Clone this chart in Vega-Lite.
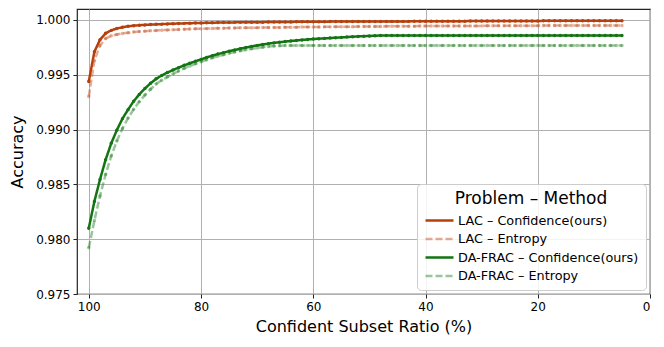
{
  "$schema": "https://vega.github.io/schema/vega-lite/v6.json",
  "width": 573,
  "height": 285,
  "autosize": "none",
  "padding": {"left": 77, "top": 9, "right": 14, "bottom": 53},
  "config": {
    "font": "DejaVu Sans",
    "view": {"stroke": "#222", "strokeWidth": 1.2},
    "axis": {
      "domain": false,
      "grid": true,
      "gridColor": "#b0b0b0",
      "gridWidth": 1,
      "tickColor": "#222",
      "tickSize": 4,
      "labelColor": "black",
      "labelFontSize": 12,
      "labelPadding": 3,
      "titleColor": "black",
      "titleFontSize": 16,
      "titleFontWeight": "normal"
    },
    "legend": {
      "labelFont": "DejaVu Sans",
      "titleFont": "DejaVu Sans"
    }
  },
  "data": {
    "values": [
      {"x": 100, "lc": 0.99439, "le": 0.99302, "dc": 0.98100, "de": 0.97922},
      {"x": 99, "lc": 0.99710, "le": 0.99630, "dc": 0.98345, "de": 0.98170},
      {"x": 98, "lc": 0.99820, "le": 0.99767, "dc": 0.98545, "de": 0.98395},
      {"x": 97, "lc": 0.99878, "le": 0.99830, "dc": 0.98725, "de": 0.98590},
      {"x": 96, "lc": 0.99905, "le": 0.99855, "dc": 0.98875, "de": 0.98760},
      {"x": 95, "lc": 0.99922, "le": 0.99868, "dc": 0.98995, "de": 0.98895},
      {"x": 94, "lc": 0.99934, "le": 0.99877, "dc": 0.99100, "de": 0.99010},
      {"x": 93, "lc": 0.99942, "le": 0.99884, "dc": 0.99182, "de": 0.99105},
      {"x": 92, "lc": 0.99948, "le": 0.99890, "dc": 0.99259, "de": 0.99185},
      {"x": 91, "lc": 0.99952, "le": 0.99894, "dc": 0.99321, "de": 0.99255},
      {"x": 90, "lc": 0.99955, "le": 0.99898, "dc": 0.99375, "de": 0.99315},
      {"x": 89, "lc": 0.99958, "le": 0.99901, "dc": 0.99422, "de": 0.99368},
      {"x": 88, "lc": 0.99960, "le": 0.99904, "dc": 0.99463, "de": 0.99415},
      {"x": 87, "lc": 0.99962, "le": 0.99907, "dc": 0.99494, "de": 0.99450},
      {"x": 86, "lc": 0.99964, "le": 0.99909, "dc": 0.99520, "de": 0.99480},
      {"x": 85, "lc": 0.99966, "le": 0.99911, "dc": 0.99543, "de": 0.99508},
      {"x": 84, "lc": 0.99967, "le": 0.99913, "dc": 0.99565, "de": 0.99534},
      {"x": 83, "lc": 0.99969, "le": 0.99915, "dc": 0.99586, "de": 0.99558},
      {"x": 82, "lc": 0.99970, "le": 0.99917, "dc": 0.99605, "de": 0.99580},
      {"x": 81, "lc": 0.99972, "le": 0.99919, "dc": 0.99623, "de": 0.99600},
      {"x": 80, "lc": 0.99973, "le": 0.99920, "dc": 0.99640, "de": 0.99619},
      {"x": 79, "lc": 0.99974, "le": 0.99921, "dc": 0.99658, "de": 0.99637},
      {"x": 78, "lc": 0.99975, "le": 0.99922, "dc": 0.99674, "de": 0.99654},
      {"x": 77, "lc": 0.99976, "le": 0.99924, "dc": 0.99689, "de": 0.99669},
      {"x": 76, "lc": 0.99976, "le": 0.99925, "dc": 0.99702, "de": 0.99683},
      {"x": 75, "lc": 0.99977, "le": 0.99926, "dc": 0.99715, "de": 0.99696},
      {"x": 74, "lc": 0.99978, "le": 0.99927, "dc": 0.99726, "de": 0.99707},
      {"x": 73, "lc": 0.99978, "le": 0.99928, "dc": 0.99738, "de": 0.99718},
      {"x": 72, "lc": 0.99979, "le": 0.99929, "dc": 0.99749, "de": 0.99728},
      {"x": 71, "lc": 0.99979, "le": 0.99929, "dc": 0.99759, "de": 0.99737},
      {"x": 70, "lc": 0.99980, "le": 0.99930, "dc": 0.99768, "de": 0.99745},
      {"x": 69, "lc": 0.99980, "le": 0.99931, "dc": 0.99776, "de": 0.99752},
      {"x": 68, "lc": 0.99981, "le": 0.99931, "dc": 0.99784, "de": 0.99758},
      {"x": 67, "lc": 0.99981, "le": 0.99932, "dc": 0.99791, "de": 0.99762},
      {"x": 66, "lc": 0.99982, "le": 0.99932, "dc": 0.99797, "de": 0.99765},
      {"x": 65, "lc": 0.99982, "le": 0.99933, "dc": 0.99803, "de": 0.99767},
      {"x": 64, "lc": 0.99982, "le": 0.99933, "dc": 0.99808, "de": 0.99767},
      {"x": 63, "lc": 0.99983, "le": 0.99934, "dc": 0.99813, "de": 0.99767},
      {"x": 62, "lc": 0.99983, "le": 0.99935, "dc": 0.99818, "de": 0.99767},
      {"x": 61, "lc": 0.99984, "le": 0.99935, "dc": 0.99822, "de": 0.99767},
      {"x": 60, "lc": 0.99984, "le": 0.99936, "dc": 0.99826, "de": 0.99767},
      {"x": 59, "lc": 0.99984, "le": 0.99936, "dc": 0.99829, "de": 0.99767},
      {"x": 58, "lc": 0.99984, "le": 0.99937, "dc": 0.99832, "de": 0.99767},
      {"x": 57, "lc": 0.99985, "le": 0.99937, "dc": 0.99835, "de": 0.99767},
      {"x": 56, "lc": 0.99985, "le": 0.99938, "dc": 0.99838, "de": 0.99767},
      {"x": 55, "lc": 0.99985, "le": 0.99938, "dc": 0.99841, "de": 0.99767},
      {"x": 54, "lc": 0.99985, "le": 0.99939, "dc": 0.99844, "de": 0.99767},
      {"x": 53, "lc": 0.99985, "le": 0.99939, "dc": 0.99847, "de": 0.99767},
      {"x": 52, "lc": 0.99986, "le": 0.99940, "dc": 0.99850, "de": 0.99767},
      {"x": 51, "lc": 0.99986, "le": 0.99940, "dc": 0.99852, "de": 0.99767},
      {"x": 50, "lc": 0.99986, "le": 0.99941, "dc": 0.99854, "de": 0.99767},
      {"x": 49, "lc": 0.99986, "le": 0.99941, "dc": 0.99856, "de": 0.99767},
      {"x": 48, "lc": 0.99986, "le": 0.99941, "dc": 0.99858, "de": 0.99767},
      {"x": 47, "lc": 0.99987, "le": 0.99942, "dc": 0.99859, "de": 0.99767},
      {"x": 46, "lc": 0.99987, "le": 0.99942, "dc": 0.99859, "de": 0.99767},
      {"x": 45, "lc": 0.99987, "le": 0.99942, "dc": 0.99859, "de": 0.99767},
      {"x": 44, "lc": 0.99987, "le": 0.99943, "dc": 0.99859, "de": 0.99767},
      {"x": 43, "lc": 0.99987, "le": 0.99943, "dc": 0.99859, "de": 0.99767},
      {"x": 42, "lc": 0.99988, "le": 0.99943, "dc": 0.99859, "de": 0.99767},
      {"x": 41, "lc": 0.99988, "le": 0.99944, "dc": 0.99859, "de": 0.99767},
      {"x": 40, "lc": 0.99988, "le": 0.99944, "dc": 0.99859, "de": 0.99767},
      {"x": 39, "lc": 0.99988, "le": 0.99944, "dc": 0.99859, "de": 0.99767},
      {"x": 38, "lc": 0.99988, "le": 0.99944, "dc": 0.99859, "de": 0.99767},
      {"x": 37, "lc": 0.99989, "le": 0.99945, "dc": 0.99859, "de": 0.99767},
      {"x": 36, "lc": 0.99989, "le": 0.99945, "dc": 0.99859, "de": 0.99767},
      {"x": 35, "lc": 0.99989, "le": 0.99945, "dc": 0.99859, "de": 0.99767},
      {"x": 34, "lc": 0.99989, "le": 0.99945, "dc": 0.99859, "de": 0.99767},
      {"x": 33, "lc": 0.99989, "le": 0.99946, "dc": 0.99859, "de": 0.99767},
      {"x": 32, "lc": 0.99990, "le": 0.99946, "dc": 0.99859, "de": 0.99767},
      {"x": 31, "lc": 0.99990, "le": 0.99946, "dc": 0.99859, "de": 0.99767},
      {"x": 30, "lc": 0.99990, "le": 0.99946, "dc": 0.99859, "de": 0.99767},
      {"x": 29, "lc": 0.99990, "le": 0.99947, "dc": 0.99859, "de": 0.99767},
      {"x": 28, "lc": 0.99990, "le": 0.99947, "dc": 0.99859, "de": 0.99767},
      {"x": 27, "lc": 0.99990, "le": 0.99947, "dc": 0.99859, "de": 0.99767},
      {"x": 26, "lc": 0.99991, "le": 0.99947, "dc": 0.99859, "de": 0.99767},
      {"x": 25, "lc": 0.99991, "le": 0.99948, "dc": 0.99859, "de": 0.99767},
      {"x": 24, "lc": 0.99991, "le": 0.99948, "dc": 0.99859, "de": 0.99767},
      {"x": 23, "lc": 0.99991, "le": 0.99948, "dc": 0.99859, "de": 0.99767},
      {"x": 22, "lc": 0.99991, "le": 0.99948, "dc": 0.99859, "de": 0.99767},
      {"x": 21, "lc": 0.99991, "le": 0.99948, "dc": 0.99859, "de": 0.99767},
      {"x": 20, "lc": 0.99991, "le": 0.99948, "dc": 0.99859, "de": 0.99767},
      {"x": 19, "lc": 0.99992, "le": 0.99949, "dc": 0.99859, "de": 0.99767},
      {"x": 18, "lc": 0.99992, "le": 0.99949, "dc": 0.99859, "de": 0.99767},
      {"x": 17, "lc": 0.99992, "le": 0.99949, "dc": 0.99859, "de": 0.99767},
      {"x": 16, "lc": 0.99992, "le": 0.99949, "dc": 0.99859, "de": 0.99767},
      {"x": 15, "lc": 0.99992, "le": 0.99949, "dc": 0.99859, "de": 0.99767},
      {"x": 14, "lc": 0.99992, "le": 0.99949, "dc": 0.99859, "de": 0.99767},
      {"x": 13, "lc": 0.99992, "le": 0.99949, "dc": 0.99859, "de": 0.99767},
      {"x": 12, "lc": 0.99992, "le": 0.99949, "dc": 0.99859, "de": 0.99767},
      {"x": 11, "lc": 0.99992, "le": 0.99949, "dc": 0.99859, "de": 0.99767},
      {"x": 10, "lc": 0.99992, "le": 0.99950, "dc": 0.99859, "de": 0.99767},
      {"x": 9, "lc": 0.99993, "le": 0.99950, "dc": 0.99859, "de": 0.99767},
      {"x": 8, "lc": 0.99993, "le": 0.99950, "dc": 0.99859, "de": 0.99767},
      {"x": 7, "lc": 0.99993, "le": 0.99950, "dc": 0.99859, "de": 0.99767},
      {"x": 6, "lc": 0.99993, "le": 0.99950, "dc": 0.99859, "de": 0.99767},
      {"x": 5, "lc": 0.99993, "le": 0.99950, "dc": 0.99859, "de": 0.99767}
    ]
  },
  "transform": [
    {"fold": ["lc", "le", "dc", "de"], "as": ["series", "acc"]}
  ],
  "encoding": {
    "x": {
      "field": "x",
      "type": "quantitative",
      "scale": {"domain": [102.1, 0], "nice": false, "zero": false},
      "axis": {"values": [100, 80, 60, 40, 20, 0], "title": "Confident Subset Ratio (%)", "titlePadding": 6}
    },
    "y": {
      "field": "acc",
      "type": "quantitative",
      "scale": {"domain": [0.975, 1.001], "nice": false, "zero": false},
      "axis": {"values": [0.975, 0.98, 0.985, 0.99, 0.995, 1.0], "format": ".3f", "title": "Accuracy", "titlePadding": 10}
    },
    "color": {
      "field": "series",
      "type": "nominal",
      "scale": {"domain": ["lc", "le", "dc", "de"], "range": ["#b5400c", "rgba(200,90,45,0.5)", "#137413", "rgba(30,125,30,0.45)"]},
      "legend": {
        "title": "Problem – Method",
        "orient": "none",
        "legendX": 340,
        "legendY": 175,
        "direction": "vertical",
        "symbolType": "M-2.8,0H2.8",
        "symbolSize": 100,
        "symbolOffset": 9,
        "symbolStrokeWidth": 2.5,
        "labelExpr": "datum.label == 'lc' ? 'LAC – Confidence(ours)' : datum.label == 'le' ? 'LAC – Entropy' : datum.label == 'dc' ? 'DA-FRAC – Confidence(ours)' : 'DA-FRAC – Entropy'",
        "labelFontSize": 12.8,
        "labelColor": "black",
        "labelOffset": 12,
        "labelLimit": 300,
        "titleFontSize": 17,
        "titleFontWeight": "normal",
        "titleColor": "black",
        "titleAnchor": "middle",
        "titlePadding": 6,
        "rowPadding": 4.5,
        "padding": 7,
        "fillColor": "rgba(255,255,255,0.85)",
        "strokeColor": "#cccccc",
        "cornerRadius": 4
      }
    },
    "strokeDash": {
      "field": "series",
      "type": "nominal",
      "scale": {"domain": ["lc", "le", "dc", "de"], "range": [[1, 0], [7, 3], [1, 0], [7, 3]]},
      "legend": null
    }
  },
  "layer": [
    {"mark": {"type": "line", "strokeWidth": 2.5, "clip": true}},
    {"mark": {"type": "point", "filled": true, "size": 12, "opacity": 1, "clip": true}, "encoding": {"strokeDash": {"value": [1, 0]}}}
  ]
}
